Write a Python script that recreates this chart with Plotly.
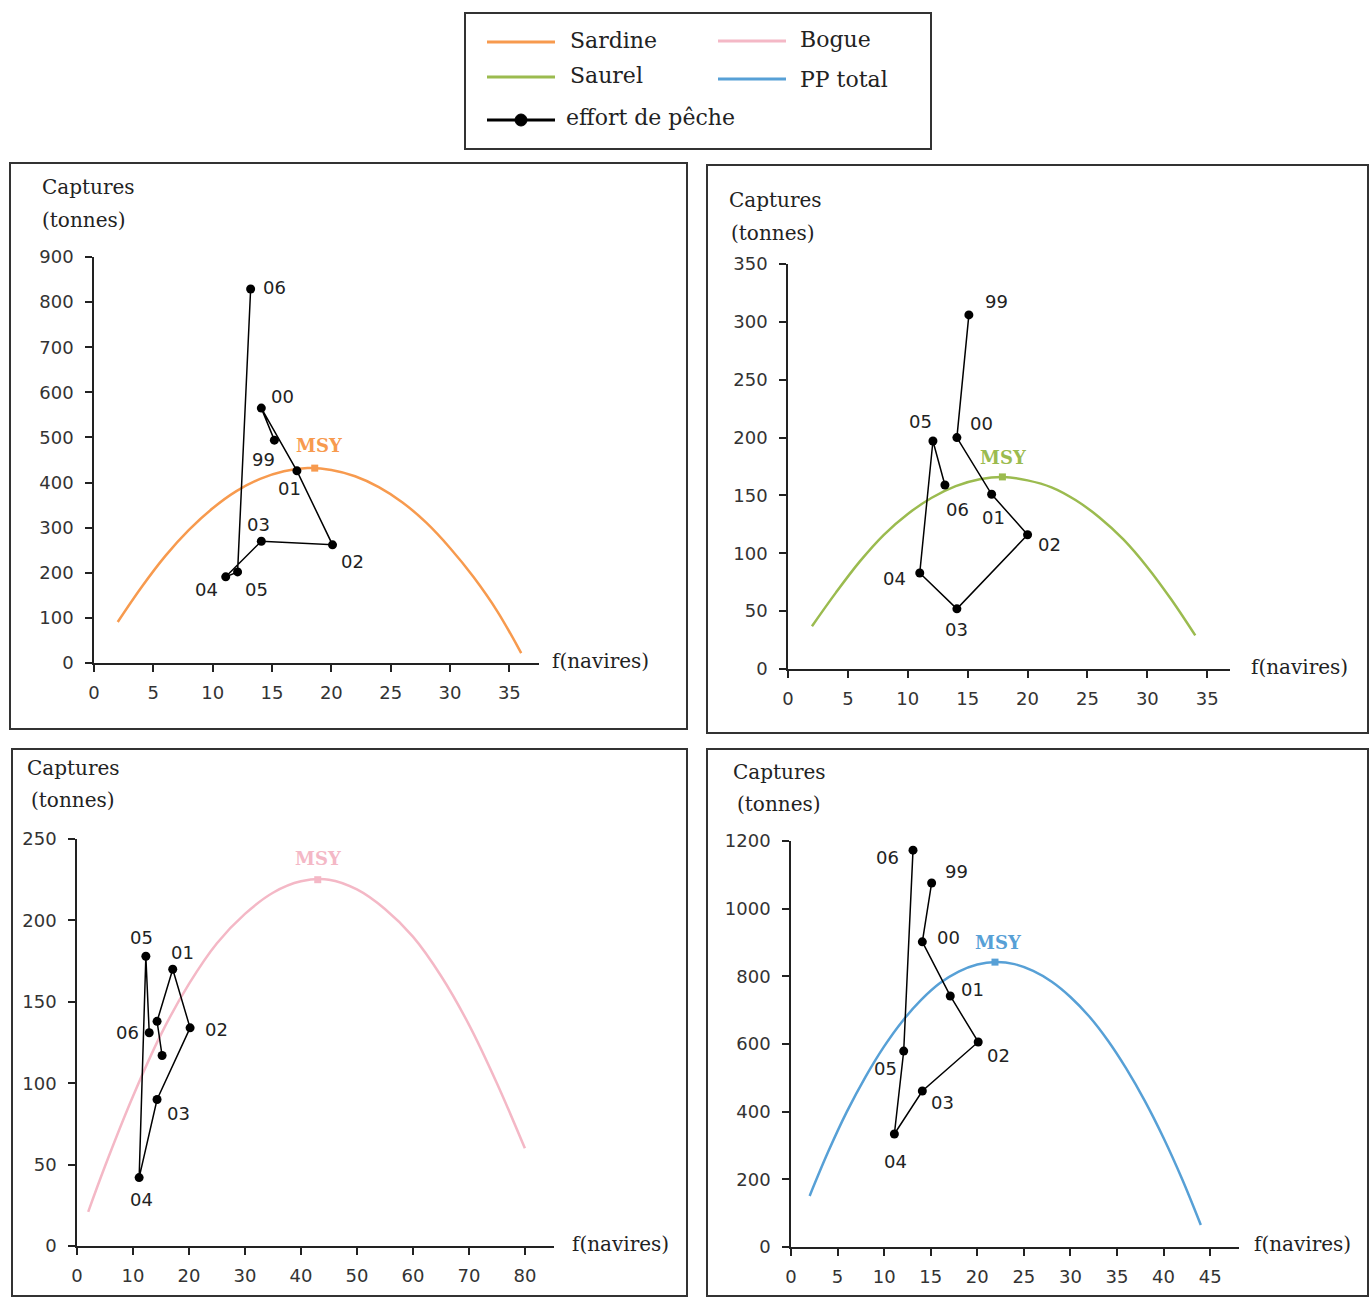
import plotly.graph_objects as go

W, H = 1369, 1297

# ---------------- data ----------------
years = ["99", "00", "01", "02", "03", "04", "05", "06"]

sardine_f = [15.2, 14.1, 17.1, 20.1, 14.1, 11.1, 12.1, 13.2]
sardine_c = [494, 565, 426, 262, 270, 191, 202, 829]
saurel_f = [15.1, 14.1, 17.0, 20.0, 14.1, 11.0, 12.1, 13.1]
saurel_c = [306, 200, 151, 116, 52, 83, 197, 159]
bogue_f = [15.2, 14.3, 17.1, 20.2, 14.3, 11.1, 12.3, 12.9]
bogue_c = [117, 138, 170, 134, 90, 42, 178, 131]
pp_f = [15.1, 14.1, 17.1, 20.1, 14.1, 11.1, 12.1, 13.1]
pp_c = [1076, 902, 742, 606, 461, 334, 579, 1173]

sardine_curve_f = [2, 4, 6, 8, 10, 12, 14, 16, 18, 20, 22, 24, 26, 28, 30, 32, 34, 36]
sardine_curve_c = [91, 168, 237, 295, 343, 381, 408, 425, 432, 428, 414, 390, 356, 311, 255, 190, 114, 22]
saurel_curve_f = [2, 4, 6, 8, 10, 12, 14, 16, 18, 20, 22, 24, 26, 28, 30, 32, 34]
saurel_curve_c = [37, 66, 93, 116, 134, 148, 158, 164, 166, 163, 157, 146, 131, 112, 88, 60, 29]
bogue_curve_f = [2, 5, 10, 15, 20, 25, 30, 35, 40, 45, 50, 55, 60, 65, 70, 75, 80]
bogue_curve_c = [21, 49, 92, 130, 161, 186, 204, 217, 224, 225, 219, 207, 190, 166, 136, 100, 60]
pp_curve_f = [2, 4, 6, 8, 10, 12, 14, 16, 18, 20, 22, 24, 26, 28, 30, 32, 34, 36, 38, 40, 42, 44]
pp_curve_c = [151, 282, 400, 503, 593, 669, 731, 780, 814, 835, 842, 836, 816, 784, 739, 682, 611, 527, 431, 322, 200, 65]

msy_sardine = (18.6, 432)
msy_saurel = (17.9, 166)
msy_bogue = (43.0, 225)
msy_pp = (21.9, 842)

x_ticks_35 = [0, 5, 10, 15, 20, 25, 30, 35]
x_ticks_80 = [0, 10, 20, 30, 40, 50, 60, 70, 80]
x_ticks_45 = [0, 5, 10, 15, 20, 25, 30, 35, 40, 45]

# ---------------- styles ----------------
C_SARD = "#F79A4E"
C_SAUR = "#9BBB4F"
C_BOG = "#F4B8C6"
C_PP = "#57A0D6"
SERIF = "DejaVu Serif"
SANS = "DejaVu Sans"


def px(x):
    return x / W


def py(y):
    return 1 - y / H


panels = [
    dict(f=sardine_f, c=sardine_c, cf=sardine_curve_f, cc=sardine_curve_c, msy=msy_sardine,
         color=C_SARD, xdom=(94, 539), ydom=(257, 663), xr=[0, 37.5], xt=x_ticks_35,
         yr=[0, 900], yd=100,
         labels=years,
         offs=[(-11, -19), (21, 12), (-7, -18), (20, -17), (-3, 17), (-19, -13), (19, -18), (24, 2)],
         msy_off=(5, 23),
         capt=(40, 187), tonn=(40, 220), fnav=(550, 661)),
    dict(f=saurel_f, c=saurel_c, cf=saurel_curve_f, cc=saurel_curve_c, msy=msy_saurel,
         color=C_SAUR, xdom=(788, 1230), ydom=(264, 669), xr=[0, 36.9], xt=x_ticks_35,
         yr=[0, 350], yd=50,
         labels=years,
         offs=[(28, 13), (25, 14), (2, -23), (22, -10), (0, -21), (-25, -6), (-12, 20), (13, -24)],
         msy_off=(1, 19),
         capt=(727, 200), tonn=(729, 233), fnav=(1249, 667)),
    dict(f=bogue_f, c=bogue_c, cf=bogue_curve_f, cc=bogue_curve_c, msy=msy_bogue,
         color=C_BOG, xdom=(77, 554), ydom=(839, 1246), xr=[0, 85.2], xt=x_ticks_80,
         yr=[0, 250], yd=50,
         labels=["", "", "01", "02", "03", "04", "05", "06"],
         offs=[(0, 0), (0, 0), (10, 17), (26, -2), (21, -14), (2, -22), (-4, 19), (-22, 0)],
         msy_off=(1, 21),
         capt=(25, 768), tonn=(29, 800), fnav=(570, 1244)),
    dict(f=pp_f, c=pp_c, cf=pp_curve_f, cc=pp_curve_c, msy=msy_pp,
         color=C_PP, xdom=(791, 1239), ydom=(841, 1247), xr=[0, 48.1], xt=x_ticks_45,
         yr=[0, 1200], yd=200,
         labels=years,
         offs=[(25, 11), (26, 4), (22, 6), (20, -14), (20, -11), (1, -27), (-18, -17), (-26, -7)],
         msy_off=(4, 20),
         capt=(731, 772), tonn=(735, 804), fnav=(1252, 1244)),
]

fig = go.Figure()
annotations = []
shapes = []

for i, p in enumerate(panels, start=1):
    xa = "x" if i == 1 else f"x{i}"
    ya = "y" if i == 1 else f"y{i}"
    fig.add_trace(go.Scatter(x=p["cf"], y=p["cc"], mode="lines", line=dict(color=p["color"], width=2.5, shape="spline"),
                             xaxis=xa, yaxis=ya, showlegend=False, hoverinfo="skip"))
    fig.add_trace(go.Scatter(x=[p["msy"][0]], y=[p["msy"][1]], mode="markers",
                             marker=dict(symbol="square", size=7, color=p["color"]),
                             xaxis=xa, yaxis=ya, showlegend=False, hoverinfo="skip"))
    fig.add_trace(go.Scatter(x=p["f"], y=p["c"], mode="lines+markers",
                             line=dict(color="black", width=1.5),
                             marker=dict(symbol="circle", size=9, color="black"),
                             xaxis=xa, yaxis=ya, showlegend=False))
    for xv, yv, lab, (dx, dy) in zip(p["f"], p["c"], p["labels"], p["offs"]):
        if lab:
            annotations.append(dict(x=xv, y=yv, xref=xa, yref=ya, text=lab, showarrow=False,
                                    xshift=dx, yshift=dy, font=dict(family=SANS, size=18, color="#222")))
    annotations.append(dict(x=p["msy"][0], y=p["msy"][1], xref=xa, yref=ya, text="<b>MSY</b>", showarrow=False,
                            xshift=p["msy_off"][0], yshift=p["msy_off"][1],
                            font=dict(family=SERIF, size=18, color=p["color"])))
    for txt, (tx, ty) in (("Captures", p["capt"]), ("(tonnes)", p["tonn"]), ("f(navires)", p["fnav"])):
        annotations.append(dict(x=px(tx), y=py(ty), xref="paper", yref="paper", text=txt, showarrow=False,
                                xanchor="left", yanchor="middle", font=dict(family=SERIF, size=20, color="#222")))
    axis_common = dict(showline=True, linecolor="#222", linewidth=1.5, showgrid=False, zeroline=False,
                       ticks="outside", ticklen=7, tickwidth=1.5, tickcolor="#222", automargin=False,
                       tickfont=dict(family=SANS, size=18, color="#333"))
    xkey = "xaxis" if i == 1 else f"xaxis{i}"
    ykey = "yaxis" if i == 1 else f"yaxis{i}"
    fig.update_layout(**{
        xkey: dict(domain=[px(p["xdom"][0]), px(p["xdom"][1])], range=p["xr"], tickvals=p["xt"],
                   anchor=ya, ticklabelstandoff=6, **axis_common),
        ykey: dict(domain=[py(p["ydom"][1]), py(p["ydom"][0])], range=p["yr"], dtick=p["yd"],
                   tick0=0, anchor=xa, ticklabelstandoff=8, **axis_common),
    })

# panel frames
for (x0, y0, x1, y1) in [(10, 163, 687, 729), (707, 165, 1368, 733), (12, 749, 687, 1296), (707, 749, 1368, 1296),
                         (465, 13, 931, 149)]:
    shapes.append(dict(type="rect", xref="paper", yref="paper", x0=px(x0), x1=px(x1), y0=py(y1), y1=py(y0),
                       line=dict(color="#333", width=2)))

legend_items = [
    ("Sardine", C_SARD, 487, 555, 42, 568, 41),
    ("Saurel", C_SAUR, 487, 555, 77, 568, 75),
    ("Bogue", C_BOG, 718, 786, 41, 798, 40),
    ("PP total", C_PP, 718, 786, 79, 798, 80),
    ("effort de pêche", "black", 487, 555, 120, 564, 118),
]
for name, col, lx0, lx1, ly, tx, ty in legend_items:
    shapes.append(dict(type="line", xref="paper", yref="paper", x0=px(lx0), x1=px(lx1), y0=py(ly), y1=py(ly),
                       line=dict(color=col, width=3)))
    annotations.append(dict(x=px(tx), y=py(ty), xref="paper", yref="paper", text=name, showarrow=False,
                            xanchor="left", yanchor="middle", font=dict(family=SERIF, size=22, color="#222")))
shapes.append(dict(type="circle", xref="paper", yref="paper", x0=px(515), x1=px(527), y0=py(126), y1=py(114),
                   fillcolor="black", line=dict(color="black", width=1)))

fig.update_layout(template="none", width=W, height=H, margin=dict(l=0, r=0, t=0, b=0, pad=0), autosize=False,
                  paper_bgcolor="white", plot_bgcolor="rgba(0,0,0,0)", showlegend=False,
                  annotations=annotations, shapes=shapes)

fig.write_html("out.html", config={"displayModeBar": False},
               post_script="document.body.style.margin='0';document.body.style.overflow='hidden';")
